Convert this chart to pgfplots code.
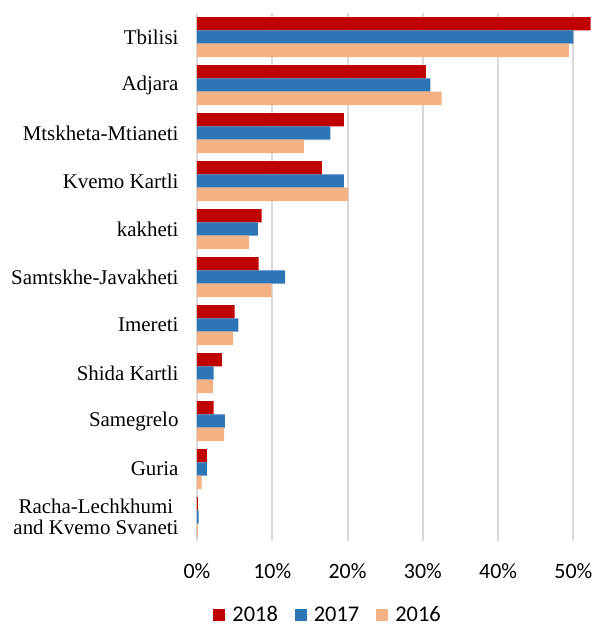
\documentclass[border=0pt]{standalone}
\usepackage{pgfplots}
\pgfplotsset{compat=1.18}
\usepackage{fontspec}
\setmainfont{Liberation Serif}
\newfontfamily\calibri{Carlito}
\definecolor{c18}{HTML}{C00000}
\definecolor{c17}{HTML}{2E75B6}
\definecolor{c16}{HTML}{F4B183}
\definecolor{gridc}{HTML}{D9D9D9}
\begin{document}
\begin{tikzpicture}
\begin{axis}[
  name=ax,
  xbar, scale only axis,
  width=396bp, height=528bp,
  xmin=0, xmax=52.6,
  ymin=-0.5, ymax=10.5, y dir=reverse,
  axis line style={draw=none},
  xmajorgrids, grid style={gridc, line width=2bp},
  xtick={0,10,20,30,40,50},
  xticklabels={0\%,10\%,20\%,30\%,40\%,50\%},
  xticklabel style={font=\calibri\fontsize{22}{24}\selectfont, yshift=-19bp},
  ytick={0,...,10},
  yticklabels={Tbilisi,Adjara,Mtskheta-Mtianeti,Kvemo Kartli,kakheti,Samtskhe-Javakheti,Imereti,Shida Kartli,Samegrelo,Guria,{Racha-Lechkhumi\\and Kvemo Svaneti}},
  yticklabel style={font=\fontsize{21}{21.5}\selectfont, align=center, xshift=-15bp},
  major tick length=0pt,
  bar width=0.2778,
  clip=false,
  legend columns=3,
  legend style={at={(axis description cs:0.331,-0.14)}, anchor=center, draw=none,
    font=\calibri\fontsize{22.5}{24}\selectfont,
    /tikz/every even column/.append style={column sep=15bp}},
  legend image code/.code={\fill[#1] (0bp,-6bp) rectangle (12bp,6bp); \path (0bp,0bp) -- (17bp,0bp);},
]
\addplot[fill=c18, draw=none, bar shift=-0.2778] coordinates {
  (52.3,0) (30.4,1) (19.5,2) (16.6,3) (8.6,4) (8.2,5) (5.0,6) (3.3,7) (2.2,8) (1.3,9) (0.1,10)
};
\addlegendentry{2018}
\addplot[fill=c17, draw=none, bar shift=0] coordinates {
  (50.0,0) (31.0,1) (17.7,2) (19.5,3) (8.1,4) (11.7,5) (5.5,6) (2.2,7) (3.7,8) (1.3,9) (0.2,10)
};
\addlegendentry{2017}
\addplot[fill=c16, draw=none, bar shift=0.2778] coordinates {
  (49.4,0) (32.5,1) (14.2,2) (20.1,3) (6.9,4) (9.9,5) (4.8,6) (2.1,7) (3.6,8) (0.6,9) (0.1,10)
};
\addlegendentry{2016}
\coordinate (bl) at (axis description cs:0,0);
\coordinate (tr) at (axis description cs:1,1);
\end{axis}
\pgfresetboundingbox
\path[use as bounding box] ([xshift=-197bp,yshift=-85bp]bl) rectangle ([yshift=13bp]tr);
\end{tikzpicture}
\end{document}
